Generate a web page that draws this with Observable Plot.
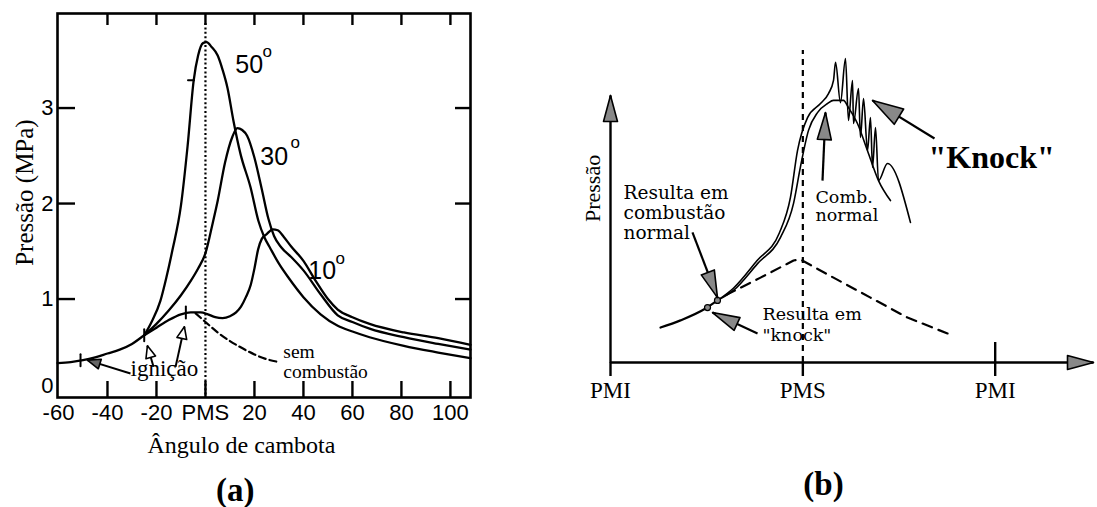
<!DOCTYPE html>
<html><head><meta charset="utf-8">
<script src="https://cdn.jsdelivr.net/npm/d3@7"></script>
<script src="https://cdn.jsdelivr.net/npm/@observablehq/plot@0.6"></script>
<style>
body{margin:0;background:#fff;}
#wrap{position:relative;width:1097px;height:507px;background:#fff;overflow:hidden;}
#wrap svg{position:absolute;top:0;overflow:visible;}
</style></head><body><div id="wrap"></div>
<script>
// ================= Panel (a): pressure (MPa) vs crank angle (deg) =================
const xTicksA = [-60, -40, -20, 0, 20, 40, 60, 80, 100];
const xTickLabelsA = ["-60", "-40", "-20", "PMS", "20", "40", "60", "80", "100"];
const xInnerTicksA = [-40, -20, 0, 20, 40, 60, 80, 100];
const yTicksA = [1, 2, 3];
const yZeroTickA = [0];
const yInnerTicksA = [1, 2, 3];

// ignition 10° (also the motored line up to PMS)
const curve10 = [[-60.4,0.33],[-55,0.34],[-50,0.36],[-45,0.39],[-40,0.43],[-35,0.47],[-30,0.53],[-25,0.62],[-20,0.70],[-15,0.78],[-10,0.84],[-6,0.86],[-2,0.86],[1,0.84],[4,0.81],[7,0.80],[10,0.82],[12.5,0.86],[14.5,0.92],[16.5,1.02],[18.5,1.15],[20,1.32],[21.5,1.52],[23,1.63],[25,1.68],[27.5,1.73],[29.5,1.72],[32,1.65],[35,1.55],[40,1.40],[45,1.19],[50,1.00],[54,0.89],[60,0.81],[67,0.74],[81,0.65],[95,0.59],[108.2,0.52]];
const curve30 = [[-25,0.62],[-20,0.74],[-15,0.88],[-10,1.04],[-6,1.19],[-3,1.32],[0,1.48],[3,1.80],[5,2.03],[8,2.43],[11,2.70],[13,2.79],[15,2.77],[17,2.71],[20,2.48],[23,2.15],[25.7,1.84],[28,1.66],[31,1.54],[35,1.44],[40,1.30],[47,1.05],[54,0.83],[60,0.76],[67,0.69],[81,0.60],[95,0.53],[108.2,0.47]];
const curve50 = [[-25,0.62],[-22,0.76],[-18.4,0.98],[-16,1.22],[-13.5,1.51],[-10,1.98],[-7.3,2.60],[-4.8,3.29],[-3,3.55],[-1,3.68],[0.5,3.69],[2.5,3.64],[5,3.55],[7,3.40],[9,3.21],[11.4,2.87],[14.3,2.52],[18.4,2.17],[21.6,1.82],[24,1.65],[26.5,1.53],[30,1.37],[34,1.22],[40,1.02],[47,0.84],[54,0.72],[60,0.66],[67,0.60],[81,0.51],[95,0.44],[108.2,0.38]];
const noCombustion = [[-4,0.85],[0,0.76],[5,0.65],[10,0.56],[14,0.50],[20,0.42],[25,0.37],[30,0.34]];

const ignitionMarks = [{x:-51,y:0.36},{x:-25,y:0.62},{x:-8,y:0.86}];
const peakMark = [{x:-5.9,y:3.29}];
const ignitionArrows = [
  {x1:-30.6,y1:0.22,x2:-48.2,y2:0.36},
  {x1:-21.2,y1:0.29,x2:-23.7,y2:0.51},
  {x1:-12.2,y1:0.29,x2:-8.6,y2:0.71}
];
const curveLabels = [{t:"50",x:12.2,y:3.37},{t:"30",x:22.4,y:2.40},{t:"10",x:42.0,y:1.21}];
const degreeLabels = [{t:"o",x:23.3,y:3.53},{t:"o",x:34.7,y:2.58},{t:"o",x:53.1,y:1.37}];
const notesA = [
  {t:"ignição",x:-30.6,y:0.199},
  {t:"sem\ncombustão",x:31.8,y:0.168}
];
const titlesA = [
  {t:"Pressão (MPa)",x:-73.5,y:2.115},
  {t:"Ângulo de cambota",x:14.7,y:-0.607},
  {t:"(a)",x:12.2,y:-1.11}
];

// ================= Panel (b): schematic =================
const xTicksB = [-180, 0, 180];
const xTickLabelsB = ["PMI", "PMS", "PMI"];
const bBase = [[-133.2,11.2],[-114.5,13.5],[-91.1,17.3],[-79.9,19.9]];
const bNormal = [[-79.9,19.9],[-64.9,23.1],[-42.4,31.7],[-20.9,40.1],[-8.7,51.0],[-2.2,62.8],[5.3,74.4],[13.7,80.1],[23.1,83.0],[28.7,84.0],[38,84.0],[42.7,81.7],[51.1,76.6],[60.5,67.9],[70.8,58.3],[82,51.9]];
const bKnock = [[-79.9,19.9],[-65,23.8],[-43,32.6],[-22,41.5],[-11.6,52.9],[-5,67.9],[4.4,78.5],[16.5,83.0],[24,86.2],[28.7,90.4],[30.6,96.2],[35.2,83.3],[39.9,97.4],[42.7,77.6],[46.5,90.4],[47.4,76.6],[52.1,87.8],[53.9,72.1],[56.8,84.6],[60.5,67.9],[63.3,78.5],[65.2,62.5],[68,75.3],[70.8,58.3],[79.2,63.8],[100.7,44.9]];
const bMotored = [[-72,21.6],[-39.6,27.2],[-8.7,32.7],[-2.2,33.0],[28.7,27.2],[63.3,20.8],[97.9,14.4],[135.4,9.3]];
const bPMSLine = [{x:0,y1:0,y2:100}];
const bIgnition = [{x:-79.9,y:19.9},{x:-89.2,y:17.6}];
const bAxes = [{x1:-180,y1:0,x2:-180,y2:85.6},{x1:-180,y1:0,x2:272,y2:0}];
const bArrows = [
  {x1:-103.3,y1:41.7,x2:-79.9,y2:20.8},
  {x1:-42.4,y1:9.3,x2:-84.5,y2:16.0},
  {x1:18.4,y1:58.3,x2:21.2,y2:80.1},
  {x1:123.2,y1:71.8,x2:65.2,y2:84.0}
];
const bNoteNormal = [{t:"Resulta em\ncombustão\nnormal",x:-167.8,y:39.7}];
const bNoteKnock = [{t:"Resulta em\n\"knock\"",x:-37.8,y:7.0}];
const bNoteComb = [{t:"Comb.\nnormal",x:11.8,y:45.5}];
const bKnockLabel = [{t:"\"Knock\"",x:117.6,y:62.5}];
const bYLabel = [{t:"Pressão",x:-196.8,y:55.8}];
const bCaption = [{t:"(b)",x:19.3,y:-42.6}];

// ================= helpers =================
const SERIF = "'Liberation Serif','Times New Roman',serif";
const SANS = "'Liberation Sans',Arial,sans-serif";
const DSERIF = "'DejaVu Serif',serif";
const headShape = {draw(c, l, r){ c.moveTo(0,-l); c.lineTo(r,0); c.lineTo(-r,0); c.closePath(); }};
const barShape = {draw(c, l){ c.moveTo(0,0); c.lineTo(0,-l); }};
function rotFn(sx, sy){
  return d => Math.atan2(sx.apply(d.x2)-sx.apply(d.x1), -(sy.apply(d.y2)-sy.apply(d.y1))) * 180 / Math.PI;
}
const pts = a => a.map(([x,y]) => ({x,y}));

// ================= build (a) =================
const A = {w:480, h:507, ml:57, mr:10, mt:13, mb:110, xd:[-60.4,108.2], yd:[-0.031,3.99]};
const sxA = Plot.scale({x:{domain:A.xd, range:[A.ml, A.w-A.mr]}});
const syA = Plot.scale({y:{domain:A.yd, range:[A.h-A.mb, A.mt]}});
const fwA = A.w-A.ml-A.mr, fhA = A.h-A.mt-A.mb;

const plotA = Plot.plot({
  width:A.w, height:A.h, marginLeft:A.ml, marginRight:A.mr, marginTop:A.mt, marginBottom:A.mb,
  x:{domain:A.xd, axis:null}, y:{domain:A.yd, axis:null},
  style:{fontFamily:SANS, background:"white", color:"black", overflow:"visible"},
  marks:[
    Plot.axisX(xTicksA, {anchor:"bottom", tickSize:0, tickPadding:7, fontSize:22, fontFamily:SANS,
      tickFormat:d=>xTickLabelsA[xTicksA.indexOf(d)], label:null}),
    Plot.axisY(yTicksA, {anchor:"left", tickSize:0, tickPadding:4, fontSize:22, fontFamily:SANS,
      tickFormat:d=>String(d), label:null}),
    Plot.axisY(yZeroTickA, {anchor:"left", tickSize:0, tickPadding:4, fontSize:22, fontFamily:SANS, dy:-9,
      tickFormat:d=>String(d), label:null}),
    Plot.tickX(xInnerTicksA, {x:d=>d, insetTop:fhA-16, strokeWidth:2.4}),
    Plot.tickX(xInnerTicksA, {x:d=>d, insetBottom:fhA-12, strokeWidth:2.4}),
    Plot.tickY(yInnerTicksA, {y:d=>d, insetRight:fwA-18, strokeWidth:2.4}),
    Plot.tickY(yInnerTicksA, {y:d=>d, insetLeft:fwA-15, strokeWidth:2.4}),
    Plot.ruleX([0], {insetTop:10, strokeDasharray:"2,2.4", strokeWidth:2.2}),
    Plot.line(pts(noCombustion), {x:"x", y:"y", curve:"monotone-x", strokeDasharray:"7,4", strokeWidth:2.2}),
    Plot.line(pts(curve10), {x:"x", y:"y", curve:"monotone-x", strokeWidth:2.3}),
    Plot.line(pts(curve30), {x:"x", y:"y", curve:"monotone-x", strokeWidth:2.3}),
    Plot.line(pts(curve50), {x:"x", y:"y", curve:"monotone-x", strokeWidth:2.3}),
    Plot.vector(ignitionMarks, {x:"x", y:"y", length:12, anchor:"middle", shape:barShape, strokeWidth:2}),
    Plot.vector(peakMark, {x:"x", y:"y", length:6, rotate:90, anchor:"middle", shape:barShape, strokeWidth:2}),
    Plot.link(ignitionArrows, {x1:"x1", y1:"y1", x2:"x2", y2:"y2", strokeWidth:2}),
    Plot.vector(ignitionArrows.slice(0,1), {x:"x2", y:"y2", rotate:rotFn(sxA, syA), length:13, r:5, anchor:"end",
      shape:headShape, fill:"#666", stroke:"black", strokeWidth:1.6}),
    Plot.vector(ignitionArrows.slice(1), {x:"x2", y:"y2", rotate:rotFn(sxA, syA), length:12, r:5, anchor:"end",
      shape:headShape, fill:"white", stroke:"black", strokeWidth:1.6}),
    Plot.frame({strokeWidth:2.6}),
    Plot.text(curveLabels, {x:"x", y:"y", text:"t", textAnchor:"start", lineAnchor:"bottom", fontSize:25, fontFamily:SANS}),
    Plot.text(degreeLabels, {x:"x", y:"y", text:"t", textAnchor:"start", lineAnchor:"bottom", fontSize:17, fontFamily:SANS}),
    Plot.text(notesA.slice(0,1), {x:"x", y:"y", text:"t", textAnchor:"start", lineAnchor:"bottom", fontSize:23, fontFamily:SERIF}),
    Plot.text(notesA.slice(1), {x:"x", y:"y", text:"t", textAnchor:"start", lineAnchor:"bottom", fontSize:19.5, lineHeight:1.05, fontFamily:SERIF}),
    Plot.text(titlesA.slice(0,1), {x:"x", y:"y", text:"t", rotate:-90, textAnchor:"middle", lineAnchor:"middle", fontSize:25, fontFamily:SERIF}),
    Plot.text(titlesA.slice(1,2), {x:"x", y:"y", text:"t", textAnchor:"middle", lineAnchor:"bottom", fontSize:24, fontFamily:SERIF}),
    Plot.text(titlesA.slice(2), {x:"x", y:"y", text:"t", textAnchor:"middle", lineAnchor:"bottom", fontSize:33, fontWeight:"bold", fontFamily:SERIF})
  ]
});
plotA.style.left = "0px";
document.getElementById("wrap").appendChild(plotA);

// ================= build (b) =================
const B = {w:517, h:507, ml:30, mr:4, mt:50, mb:145, xd:[-180,272], yd:[0,100]};
const sxB = Plot.scale({x:{domain:B.xd, range:[B.ml, B.w-B.mr]}});
const syB = Plot.scale({y:{domain:B.yd, range:[B.h-B.mb, B.mt]}});
const fhB = B.h-B.mt-B.mb;

const plotB = Plot.plot({
  width:B.w, height:B.h, marginLeft:B.ml, marginRight:B.mr, marginTop:B.mt, marginBottom:B.mb,
  x:{domain:B.xd, axis:null}, y:{domain:B.yd, axis:null},
  style:{fontFamily:SERIF, background:"white", color:"black", overflow:"visible"},
  marks:[
    Plot.axisX(xTicksB, {anchor:"bottom", tickSize:14, tickPadding:5, strokeWidth:2.4, fontSize:23, fontFamily:SERIF,
      tickFormat:d=>xTickLabelsB[xTicksB.indexOf(d)], label:null}),
    Plot.tickX([180], {x:d=>d, insetTop:fhB-20, strokeWidth:2.4}),
    Plot.ruleX(bPMSLine, {x:"x", y1:"y1", y2:"y2", strokeDasharray:"6,5", strokeWidth:2.2}),
    Plot.line(pts(bMotored), {x:"x", y:"y", curve:"linear", strokeDasharray:"10,7", strokeWidth:2.2}),
    Plot.line(pts(bBase), {x:"x", y:"y", curve:"monotone-x", strokeWidth:2.2}),
    Plot.line(pts(bNormal), {x:"x", y:"y", curve:"monotone-x", strokeWidth:1.6}),
    Plot.line(pts(bKnock), {x:"x", y:"y", curve:"monotone-x", strokeWidth:1.6}),
    Plot.dot(bIgnition, {x:"x", y:"y", r:3, fill:"#888", stroke:"black", strokeWidth:1.2}),
    Plot.link(bAxes, {x1:"x1", y1:"y1", x2:"x2", y2:"y2", strokeWidth:2.4}),
    Plot.vector(bAxes, {x:"x2", y:"y2", rotate:rotFn(sxB, syB), length:26, r:7, anchor:"end",
      shape:headShape, fill:"#888", stroke:"black", strokeWidth:1.6}),
    Plot.link(bArrows, {x1:"x1", y1:"y1", x2:"x2", y2:"y2", strokeWidth:2.2}),
    Plot.vector(bArrows.slice(0,3), {x:"x2", y:"y2", rotate:rotFn(sxB, syB), length:27, r:7, anchor:"end",
      shape:headShape, fill:"#888", stroke:"black", strokeWidth:1.6}),
    Plot.vector(bArrows.slice(3), {x:"x2", y:"y2", rotate:rotFn(sxB, syB), length:31, r:9, anchor:"end",
      shape:headShape, fill:"#888", stroke:"black", strokeWidth:1.6}),
    Plot.text(bNoteNormal, {x:"x", y:"y", text:"t", textAnchor:"start", lineAnchor:"bottom", fontSize:18.5, lineHeight:1.08, fontFamily:DSERIF}),
    Plot.text(bNoteKnock, {x:"x", y:"y", text:"t", textAnchor:"start", lineAnchor:"bottom", fontSize:17.5, lineHeight:1.2, fontFamily:DSERIF}),
    Plot.text(bNoteComb, {x:"x", y:"y", text:"t", textAnchor:"start", lineAnchor:"bottom", fontSize:17.5, lineHeight:1.03, fontFamily:DSERIF}),
    Plot.text(bKnockLabel, {x:"x", y:"y", text:"t", textAnchor:"start", lineAnchor:"bottom", fontSize:32, fontWeight:"bold", fontFamily:SERIF}),
    Plot.text(bYLabel, {x:"x", y:"y", text:"t", rotate:-90, textAnchor:"middle", lineAnchor:"middle", fontSize:22, fontFamily:SERIF}),
    Plot.text(bCaption, {x:"x", y:"y", text:"t", textAnchor:"middle", lineAnchor:"bottom", fontSize:33, fontWeight:"bold", fontFamily:SERIF})
  ]
});
plotB.style.left = "580px";
document.getElementById("wrap").appendChild(plotB);
</script>
</body></html>
